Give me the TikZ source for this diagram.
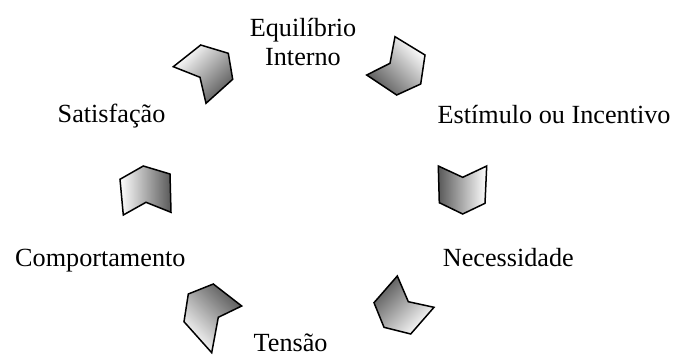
\documentclass[tikz,border=0pt]{standalone}
\usepackage{fontspec}
\setmainfont{Liberation Serif}
\begin{document}
\begin{tikzpicture}[x=1pt,y=-1pt,
  lbl/.style={anchor=base west,inner sep=0pt,font=\fontsize{26.2}{29}\selectfont},
  chev/.style={draw=black,line width=1.5pt,line join=miter,shading=axis}]
\useasboundingbox (0,0) rectangle (677,356);
% labels
\node[lbl,anchor=base] (eq) at (303,36) {Equilíbrio};
\node[lbl,anchor=base] (int) at (303,65) {Interno};
\node[lbl] (est) at (437.5,123.3) {Estímulo ou Incentivo};
\node[lbl] (sat) at (57.5,122) {Satisfação};
\node[lbl] (comp) at (15,266.5) {Comportamento};
\node[lbl] (nec) at (442.7,266.5) {Necessidade};
\node[lbl] (ten) at (253.5,351.5) {Tensão};
% chevrons
\shade[chev,top color=white,bottom color=black!65,shading angle=45]
  (173.3,66.7) -- (200.7,45) -- (228.3,53.3) -- (232.7,79.3) -- (206,103.3) -- (200,77.3) -- cycle;
\shade[chev,top color=white,bottom color=black!65,shading angle=-45]
  (395,36.7) -- (425,55) -- (420.7,84) -- (396.7,95) -- (366.7,75) -- (390,63.3) -- cycle;
\shade[chev,left color=black!65,right color=white]
  (438.3,166) -- (462.7,177.3) -- (486.7,166) -- (485,203.3) -- (462.7,214) -- (439.3,202.7) -- cycle;
\shade[chev,top color=black!65,bottom color=white,shading angle=45]
  (397.3,276) -- (408.3,301.7) -- (434,307.3) -- (410.7,334) -- (384,327.3) -- (374,302.7) -- cycle;
\shade[chev,top color=black!65,bottom color=white,shading angle=-45]
  (213.3,284) -- (241.7,306) -- (218.3,317.3) -- (211.7,352.7) -- (184,321.7) -- (188.3,294) -- cycle;
\shade[chev,left color=white,right color=black!65]
  (120,179.3) -- (143.3,166) -- (170,174) -- (171,212.3) -- (146,202.3) -- (123.3,215) -- cycle;
\end{tikzpicture}
\end{document}
